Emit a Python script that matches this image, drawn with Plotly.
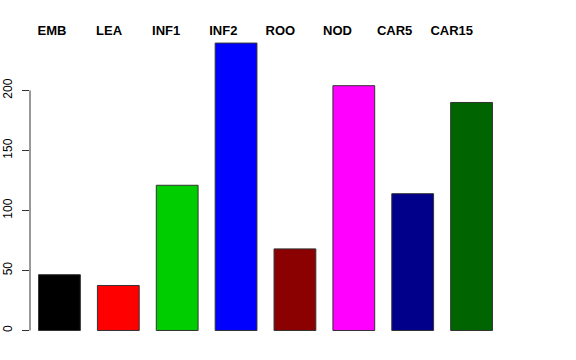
import plotly.graph_objects as go

categories = ["EMB", "LEA", "INF1", "INF2", "ROO", "NOD", "CAR5", "CAR15"]
values = [46.5, 37.5, 121, 239.5, 68, 204, 114, 190]
colors = ["#000000", "#FF0000", "#00CD00", "#0000FF", "#8B0000", "#FF00FF", "#00008B", "#006400"]
y_ticks = [0, 50, 100, 150, 200]

fig = go.Figure()
fig.add_trace(go.Bar(
    x=categories, y=values,
    marker=dict(color=colors, line=dict(color="#333333", width=1)),
    showlegend=False, hoverinfo="skip",
))
# invisible helper trace so the top label axis is drawn
fig.add_trace(go.Scatter(
    x=list(range(len(categories))), y=[0] * len(categories),
    xaxis="x2", mode="markers", marker=dict(opacity=0),
    showlegend=False, hoverinfo="skip",
))

fig.update_layout(
    width=576, height=360,
    margin=dict(l=29.5, r=74.5, t=42, b=18),
    paper_bgcolor="white", plot_bgcolor="white",
    bargap=0.29,
    font=dict(family="Liberation Sans, Arial, sans-serif", color="black"),
    xaxis=dict(
        type="category", range=[-0.5, len(categories) - 0.5], automargin=False,
        showticklabels=False, ticks="", showline=False, showgrid=False, zeroline=False,
    ),
    xaxis2=dict(
        overlaying="x", side="top", range=[-0.384, 7.862], automargin=False,
        tickvals=list(range(len(categories))), ticktext=["<b>%s</b>" % c for c in categories],
        tickfont=dict(size=13, family="Liberation Sans, Arial, sans-serif", color="black"),
        ticks="", showline=False, showgrid=False, zeroline=False,
        ticklabelstandoff=3,
    ),
    yaxis=dict(
        range=[-9.6, 240.4], tickvals=y_ticks, ticktext=[str(v) for v in y_ticks],
        automargin=False,
        tickangle=-90, ticks="outside", ticklen=7, tickwidth=1, tickcolor="#333333",
        tickfont=dict(size=12, color="black"),
        showline=False, showgrid=False, zeroline=False,
        ticklabelstandoff=5,
    ),
    shapes=[dict(
        type="line", xref="paper", yref="y", x0=0, x1=0,
        y0=y_ticks[0], y1=y_ticks[-1], line=dict(color="#333333", width=1),
    )],
)

fig.write_html(
    "out.html",
    config={"displayModeBar": False, "staticPlot": True},
    post_script="document.body.style.margin='0';document.body.style.padding='0';",
)
